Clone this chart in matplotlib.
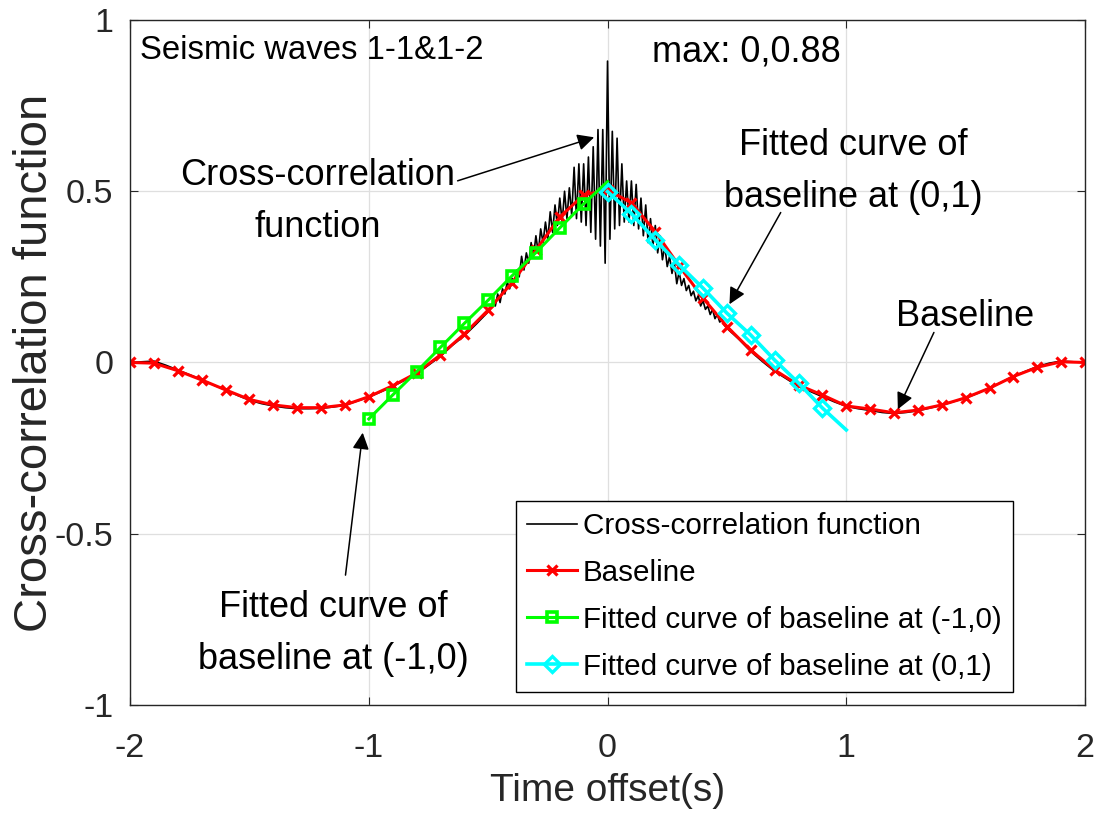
import numpy as np
import matplotlib
matplotlib.use("Agg")
import matplotlib.pyplot as plt

plt.rcParams['font.family'] = ['Liberation Sans', 'DejaVu Sans']

# ---- baseline, sampled every 0.1 s ----
t_base = np.round(np.arange(-2.0, 2.0001, 0.1), 2)
baseline = [0.000, -0.002, -0.024, -0.051, -0.080, -0.108, -0.124, -0.132, -0.132, -0.124,
            -0.100, -0.068, -0.031, 0.022, 0.083, 0.153, 0.233, 0.328, 0.425, 0.489,
            0.504,
            0.466, 0.382, 0.282, 0.188, 0.105, 0.036, -0.022, -0.066, -0.095, -0.127,
            -0.136, -0.147, -0.139, -0.124, -0.103, -0.075, -0.041, -0.014, 0.002, 0.000]

# ---- fitted curves ----
t_fit_left = np.round(np.arange(-1.0, 0.0001, 0.1), 2)
fit_left = [-0.165, -0.095, -0.027, 0.044, 0.114, 0.182, 0.253, 0.321, 0.393, 0.463, 0.528]

t_fit_right = np.round(np.arange(0.0, 1.0001, 0.1), 2)
fit_right = [0.499, 0.435, 0.358, 0.285, 0.217, 0.144, 0.080, 0.007, -0.060, -0.133, -0.197]

# ---- cross-correlation function ----
t_cc_left = np.round(np.arange(-2.0, -0.4999, 0.05), 2)
cc_left = [0.000, 0.002, 0.004, -0.008, -0.022, -0.036, -0.050, -0.066, -0.080, -0.096,
           -0.110, -0.120, -0.127, -0.132, -0.135, -0.135, -0.134, -0.130, -0.125, -0.113,
           -0.101, -0.086, -0.070, -0.052, -0.034, -0.008, 0.018, 0.050, 0.078, 0.112,
           0.148]

t_cc_mid = np.round(np.arange(-0.49, 0.4901, 0.01), 2)
cc_mid = [0.158, 0.175, 0.165, 0.200, 0.175, 0.215, 0.200, 0.235, 0.215, 0.245,
          0.235, 0.270, 0.250, 0.310,
          0.270, 0.320, 0.290, 0.350, 0.310, 0.370, 0.320, 0.390, 0.350, 0.410,
          0.360, 0.440, 0.380, 0.460, 0.400, 0.480, 0.410, 0.500, 0.420, 0.510,
          0.430, 0.570, 0.420, 0.580, 0.410, 0.580, 0.400, 0.600, 0.380, 0.630,
          0.360, 0.680, 0.340, 0.680, 0.290,
          0.880,
          0.360, 0.675, 0.390, 0.655, 0.400, 0.580, 0.410, 0.530, 0.410, 0.530,
          0.400, 0.520, 0.390, 0.480, 0.370, 0.460, 0.350, 0.420, 0.340, 0.400,
          0.320, 0.370, 0.300, 0.340, 0.280, 0.310, 0.260, 0.290, 0.230, 0.265,
          0.225, 0.245, 0.210, 0.225, 0.195, 0.208, 0.180, 0.195, 0.165, 0.180,
          0.155, 0.165, 0.140, 0.155, 0.128, 0.140, 0.118, 0.125, 0.108]

t_cc_right = np.round(np.arange(0.5, 2.0001, 0.05), 2)
cc_right = [0.100, 0.068, 0.032, 0.002, -0.026, -0.048, -0.070, -0.085, -0.100, -0.115,
            -0.128, -0.135, -0.140, -0.146, -0.149, -0.146, -0.141, -0.133, -0.125, -0.114,
            -0.104, -0.090, -0.074, -0.058, -0.040, -0.026, -0.012, -0.002, 0.004, 0.002,
            0.000]

t_cc = np.concatenate([t_cc_left, t_cc_mid, t_cc_right])
cc = np.concatenate([cc_left, cc_mid, cc_right])

labels = ['Cross-correlation function', 'Baseline',
          'Fitted curve of baseline at (-1,0)', 'Fitted curve of baseline at (0,1)']

fig = plt.figure(figsize=(11.02, 8.14), dpi=100)
ax = fig.add_axes([0.118, 0.134, 0.8666, 0.8414])

ax.plot(t_cc, cc, color='black', lw=1.2, label=labels[0])
ax.plot(t_base, baseline, color='#FF0000', lw=2.2, marker='x', ms=6.5, mew=2.3, label=labels[1])
ax.plot(t_fit_left, fit_left, color='#00FF00', lw=2.2, marker='s', ms=7.5, mew=2.6,
        mfc='none', markevery=list(range(10)), label=labels[2])
ax.plot(t_fit_right, fit_right, color='#00FFFF', lw=2.6, marker='D', ms=8, mew=2.4,
        mfc='none', markevery=list(range(10)), label=labels[3])

ax.set_xlim(-2, 2)
ax.set_ylim(-1, 1)
ax.set_xticks([-2, -1, 0, 1, 2])
ax.set_yticks([-1, -0.5, 0, 0.5, 1])
ax.set_xticklabels(['-2', '-1', '0', '1', '2'])
ax.set_yticklabels(['-1', '-0.5', '0', '0.5', '1'])
ax.tick_params(direction='in', top=True, right=True, labelsize=24.5, length=6,
               color='#262626', labelcolor='#262626')
ax.tick_params(axis='x', pad=20)
ax.tick_params(axis='y', pad=12)
for s in ax.spines.values():
    s.set_color('#262626')
    s.set_linewidth(1.0)
ax.grid(True, color='#DFDFDF', lw=0.9)
ax.set_axisbelow(True)

ax.set_xlabel('Time offset(s)', fontsize=28, color='#262626', labelpad=7)
ax.set_ylabel('Cross-correlation function', fontsize=34, color='#262626', labelpad=-2)

# annotations
fs = 26
ax.text(-1.958, 0.912, 'Seismic waves 1-1&1-2', fontsize=23.7, va='center', ha='left')
ax.text(0.186, 0.907, 'max: 0,0.88', fontsize=26, va='center', ha='left')

arrow = dict(arrowstyle='-|>', color='black', lw=1.1, mutation_scale=25)
ax.text(-1.213, 0.470, 'Cross-correlation\nfunction', fontsize=fs, ha='center', va='center',
        linespacing=1.62)
ax.annotate('', xy=(-0.045, 0.66), xytext=(-0.639, 0.528), arrowprops=arrow)

ax.text(1.028, 0.558, 'Fitted curve of\nbaseline at (0,1)', fontsize=fs, ha='center',
        va='center', linespacing=1.62)
ax.annotate('', xy=(0.505, 0.163), xytext=(0.731, 0.445), arrowprops=arrow)

ax.text(1.497, 0.135, 'Baseline', fontsize=fs, ha='center', va='center')
ax.annotate('', xy=(1.211, -0.144), xytext=(1.372, 0.095), arrowprops=arrow)

ax.text(-1.149, -0.792, 'Fitted curve of\nbaseline at (-1,0)', fontsize=fs, ha='center',
        va='center', linespacing=1.62)
ax.annotate('', xy=(-1.024, -0.197), xytext=(-1.099, -0.629), arrowprops=arrow)

leg = ax.legend(loc='lower right', bbox_to_anchor=(0.9246, 0.019), fontsize=21.3,
                frameon=True, fancybox=False, edgecolor='black', framealpha=1,
                handlelength=1.7, handletextpad=0.2, labelspacing=0.64,
                borderpad=0.38, borderaxespad=0)
leg.get_frame().set_linewidth(1.0)

fig.savefig('out.png', dpi=100)
